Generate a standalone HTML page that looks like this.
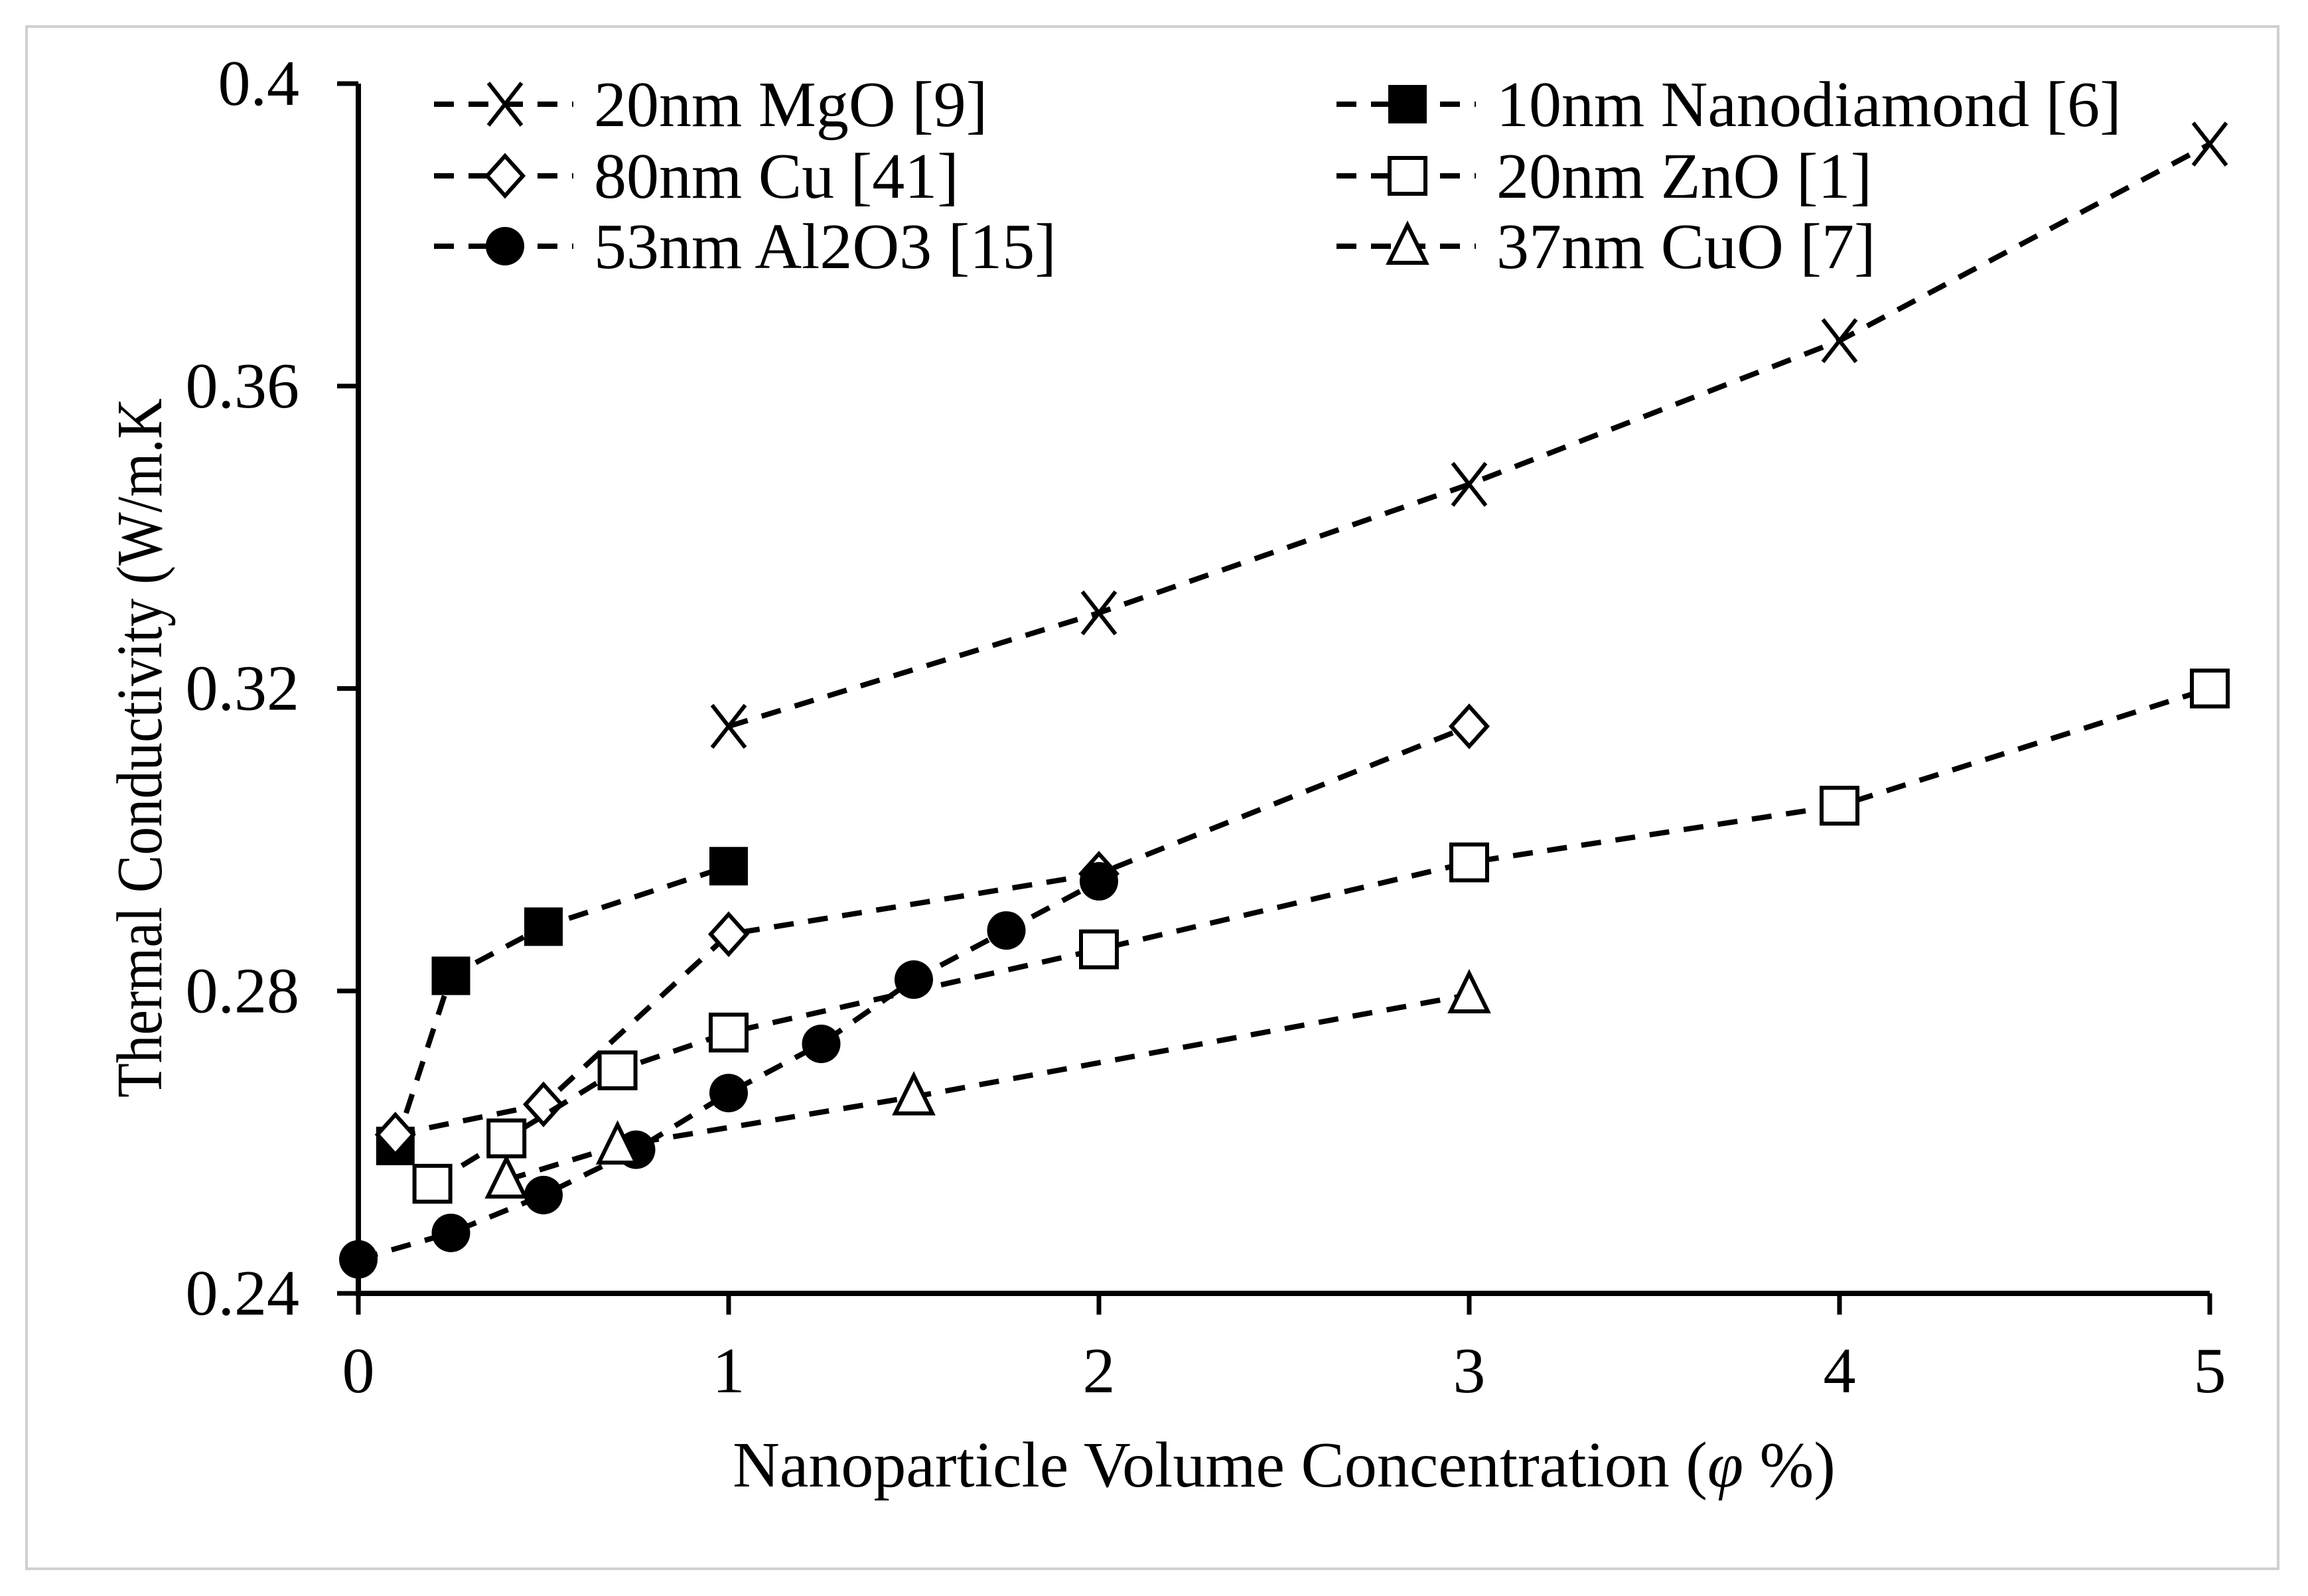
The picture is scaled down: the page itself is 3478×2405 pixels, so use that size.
<!DOCTYPE html>
<html><head><meta charset="utf-8"><style>
html,body{margin:0;padding:0;background:#fff}
svg{display:block}
text{font-family:"Liberation Serif","Times New Roman",serif;fill:#000}
</style></head><body>
<svg id="chart" width="3478" height="2405" viewBox="0 0 3478 2405" xmlns="http://www.w3.org/2000/svg">
<rect x="40" y="40" width="3393" height="2324" fill="#fff" stroke="#d0d0d0" stroke-width="4"/>
<g id="axes"></g>
<g id="series"></g>
<g id="legend"></g>
<text x="0" y="0" font-size="98" text-anchor="middle" textLength="1054" lengthAdjust="spacingAndGlyphs" fill="#000" transform="translate(243,1127) rotate(-90)">Thermal Conductivity (W/m.K</text>
<text x="1935" y="2240" font-size="98" text-anchor="middle">Nanoparticle Volume Concentration (<tspan font-style="italic">φ</tspan> %)</text>
</svg>
<script>
const xTicks=[0,1,2,3,4,5];
const yTicks=[0.24,0.28,0.32,0.36,0.4];
const yTickLabels=["0.24","0.28","0.32","0.36","0.4"];
const seriesNames=["20nm MgO [9]","10nm Nanodiamond [6]","80nm Cu [41]","20nm ZnO [1]","53nm Al2O3 [15]","37nm CuO [7]"];
const mgoX=[1,2,3,4,5];
const mgoY=[0.315,0.330,0.347,0.366,0.392];
const ndX=[0.1,0.25,0.5,1];
const ndY=[0.2595,0.282,0.2885,0.2965];
const cuX=[0.1,0.5,1,2,3];
const cuY=[0.261,0.265,0.2875,0.2955,0.315];
const znoX=[0.2,0.4,0.7,1,2,3,4,5];
const znoY=[0.2545,0.2605,0.2695,0.2745,0.2855,0.297,0.3045,0.320];
const alX=[0,0.25,0.5,0.75,1,1.25,1.5,1.75,2];
const alY=[0.2445,0.248,0.253,0.259,0.2665,0.273,0.2815,0.288,0.2945];
const cuoX=[0.4,0.7,1.5,3];
const cuoY=[0.255,0.2595,0.266,0.2795];

const NS="http://www.w3.org/2000/svg";
const X0=540,X1=3330,Y0=1949,Y1=126;
const xs=v=>X0+(v-0)/(5-0)*(X1-X0);
const ys=v=>Y0-(v-0.24)/(0.4-0.24)*(Y0-Y1);
function mk(tag,attrs,parent){const e=document.createElementNS(NS,tag);for(const k in attrs)e.setAttribute(k,attrs[k]);parent.appendChild(e);return e;}
const axes=document.getElementById('axes');
const ax=mk('path',{d:`M${X0},${Y1} V${Y0} H${X1}`,fill:'none',stroke:'#000','stroke-width':8},axes);


xTicks.forEach(t=>{
  const l=mk('line',{x1:xs(t),x2:xs(t),y1:Y0,y2:Y0+32,stroke:'#000','stroke-width':7},axes);
  
  
  const tx=mk('text',{x:xs(t),y:2098,'font-size':98,'text-anchor':'middle'},axes);
  tx.textContent=String(t);
  
  
});
yTicks.forEach((t,i)=>{
  const l=mk('line',{x1:X0-32,x2:X0,y1:ys(t),y2:ys(t),stroke:'#000','stroke-width':7},axes);
  
  
  const tx=mk('text',{x:451,y:ys(t)+32,'font-size':98,'text-anchor':'end'},axes);
  tx.textContent=yTickLabels[i];
  
  
});
function marker(type,cx,cy,g){
  let e;
  if(type==='x'){e=mk('path',{d:`M${cx-25},${cy-32} L${cx+25},${cy+32} M${cx+25},${cy-32} L${cx-25},${cy+32}`,stroke:'#000','stroke-width':6,fill:'none'},g);}
  else if(type==='fsq'){e=mk('rect',{x:cx-29,y:cy-29,width:58,height:58,fill:'#000'},g);}
  else if(type==='dia'){e=mk('path',{d:`M${cx},${cy-30} L${cx+27},${cy} L${cx},${cy+30} L${cx-27},${cy} Z`,stroke:'#000','stroke-width':6,fill:'#fff'},g);}
  else if(type==='sq'){e=mk('rect',{x:cx-27,y:cy-27,width:54,height:54,stroke:'#000','stroke-width':6,fill:'#fff'},g);}
  else if(type==='cir'){e=mk('ellipse',{cx:cx,cy:cy,rx:29,ry:29,fill:'#000'},g);}
  else if(type==='tri'){e=mk('path',{d:`M${cx},${cy-32} L${cx+28},${cy+25} L${cx-28},${cy+25} Z`,stroke:'#000','stroke-width':6,fill:'#fff'},g);}
  
  
}
const seriesG=document.getElementById('series');
const defs=[[mgoX,mgoY,'x','mgo'],[ndX,ndY,'fsq','nanodiamond'],[cuX,cuY,'dia','cu'],[znoX,znoY,'sq','zno'],[alX,alY,'cir','al2o3'],[cuoX,cuoY,'tri','cuo']];
defs.forEach(([X,Y,m,n])=>{
  const g=mk('g',{},seriesG);
  
  
  const p=mk('polyline',{points:X.map((x,i)=>xs(x)+','+ys(Y[i])).join(' '),fill:'none',stroke:'#000','stroke-width':8,'stroke-dasharray':'30 22'},g);
  
  
  X.forEach((x,i)=>marker(m,xs(x),ys(Y[i]),g));
});
const leg=document.getElementById('legend');
const legPos=[[654,157],[2014,157],[654,265],[2014,265],[654,371],[2014,371]];
const legMarks=['x','fsq','dia','sq','cir','tri'];
seriesNames.forEach((nm,i)=>{
  const [lx,ly]=legPos[i];
  const g=mk('g',{},leg);
  
  
  const l=mk('line',{x1:lx,x2:lx+210,y1:ly,y2:ly,stroke:'#000','stroke-width':8,'stroke-dasharray':'30 22'},g);
  
  
  marker(legMarks[i],lx+107,ly,g);
  const t=mk('text',{x:lx+241,y:ly+33,'font-size':98},g);
  t.textContent=nm;
  
  
});
</script>
</body></html>
